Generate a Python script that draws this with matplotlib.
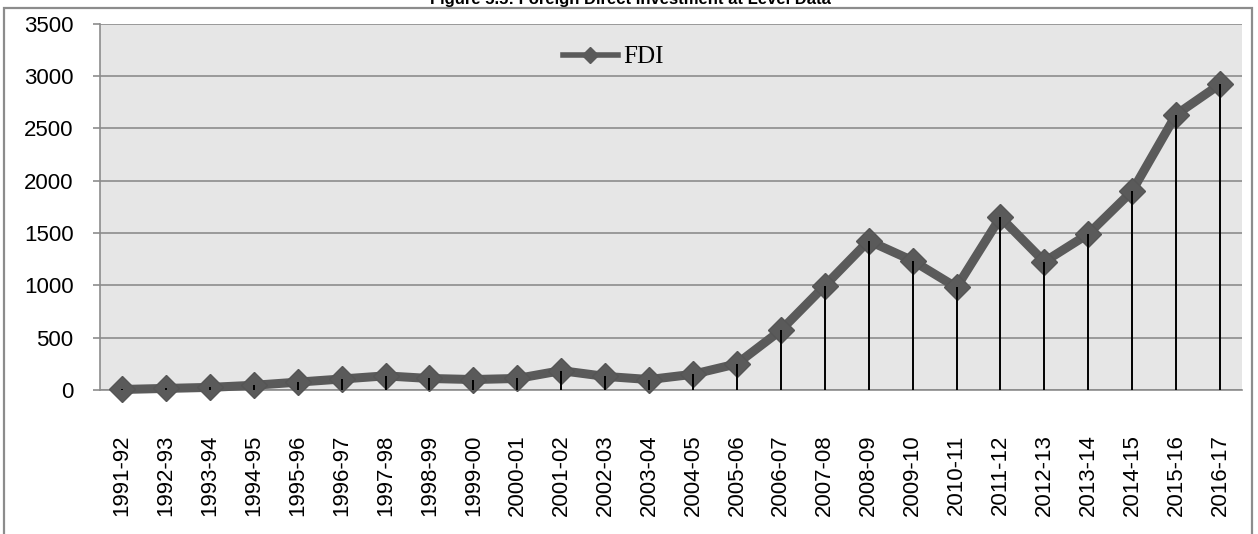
import matplotlib
matplotlib.use("Agg")
import matplotlib.pyplot as plt
from matplotlib.lines import Line2D
from matplotlib.patches import Rectangle

years = ["1991-92", "1992-93", "1993-94", "1994-95", "1995-96", "1996-97",
         "1997-98", "1998-99", "1999-00", "2000-01", "2001-02", "2002-03",
         "2003-04", "2004-05", "2005-06", "2006-07", "2007-08", "2008-09",
         "2009-10", "2010-11", "2011-12", "2012-13", "2013-14", "2014-15",
         "2015-16", "2016-17"]
fdi = [5, 15, 25, 45, 75, 105, 135, 110, 100, 110, 185, 130,
       100, 150, 250, 570, 995, 1425, 1235, 980, 1650, 1225,
       1490, 1900, 2630, 2920]
yticks = [0, 500, 1000, 1500, 2000, 2500, 3000, 3500]

W, H = 1258, 534
fig = plt.figure(figsize=(W / 100, H / 100), dpi=100)
fig.patch.set_facecolor("white")

# outer chart frame (bottom edge runs off the page)
fig.add_artist(Rectangle((4 / W, -0.05), 1248 / W, 1.05 - 8 / H,
                         transform=fig.transFigure, fill=False,
                         edgecolor="#8c8c8c", lw=1.6))

fig.text(630 / W, 1 - 4 / H, "Figure 5.5: Foreign Direct Investment at Level Data",
         ha="center", va="baseline", fontsize=12, fontweight="bold",
         family="Liberation Sans")

ax = fig.add_axes([100 / W, (H - 390) / H, 1142 / W, 366.5 / H])
ax.set_facecolor("#e6e6e6")

x = range(len(years))
ax.plot(x, fdi, color="#5a5a5a", lw=6.5, marker="D", markersize=13,
        markerfacecolor="#5a5a5a", markeredgecolor="#555555",
        solid_joinstyle="miter", zorder=3, clip_on=False)
# drop lines from each point down to zero, drawn over the series
ax.vlines(x, 0, fdi, color="black", lw=1.4, zorder=4)

ax.set_xlim(-0.5, len(years) - 0.5)
ax.set_ylim(0, 3500)
ax.set_yticks(yticks)
ax.yaxis.grid(True, color="#8c8c8c", lw=1.2)
ax.set_axisbelow(True)
ax.set_xticks(list(x))
ax.set_xticklabels(years, rotation=90, fontsize=16, family="Liberation Sans")
ax.set_yticklabels([str(v) for v in yticks], fontsize=16, family="Liberation Sans")
ax.tick_params(axis="x", length=0, pad=32)
ax.tick_params(axis="y", length=5, width=1.2, color="#8c8c8c", pad=14)

for side in ["top", "right"]:
    ax.spines[side].set_visible(False)
ax.spines["left"].set_color("#8c8c8c")
ax.spines["left"].set_linewidth(1.2)
ax.spines["bottom"].set_color("#8c8c8c")
ax.spines["bottom"].set_linewidth(1.2)

handle = Line2D([], [], color="#5a5a5a", lw=4, marker="D", markersize=8)
ax.legend([handle], ["FDI"], loc="center", bbox_to_anchor=(613 / W, 1 - 57 / H),
          bbox_transform=fig.transFigure, frameon=False,
          prop={"family": "Liberation Serif", "size": 18},
          handlelength=2.2, handletextpad=0.2)

fig.savefig("out.png", dpi=100)
